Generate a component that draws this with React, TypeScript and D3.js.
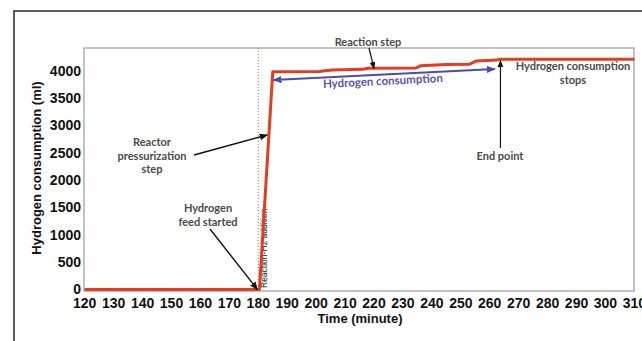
import React from "react";
import * as d3 from "d3";

// Hydrogen uptake recorded during the run (minute, ml)
const minutes = [120, 180.4, 185, 201, 205.5, 216, 218, 234.5, 236, 245, 253, 255.5, 262.5, 263.5, 310];
const consumption = [0, 0, 3985, 3990, 4020, 4030, 4050, 4055, 4095, 4120, 4125, 4185, 4200, 4215, 4215];

const xTicks = [120, 130, 140, 150, 160, 170, 180, 190, 200, 210, 220, 230, 240, 250, 260, 270, 280, 290, 300, 310];
const yTicks = [0, 500, 1000, 1500, 2000, 2500, 3000, 3500, 4000];

const h2AdditionMinute = 180;

const W = 642;
const H = 341;
const plot = { left: 84, top: 48, right: 634, bottom: 291 };

const tickFont = "'Liberation Sans', Arial, sans-serif";
const noteFont = "Lato, 'Open Sans', sans-serif";
const noteColor = "#4a4a4a";

export default function App() {
  const x = d3.scaleLinear().domain([120, 310]).range([84.7, 634.4]);
  const y = d3.scaleLinear().domain([0, 4000]).range([289.5, 71]);

  const pts: [number, number][] = minutes.map((m, i) => [m, consumption[i]]);
  const line = d3
    .line<[number, number]>()
    .x((d) => x(d[0]))
    .y((d) => y(d[1]));

  // annotation arrow tips sit on the data
  const pressTip = [x(183.1), y(2830)];
  const feedTip = [x(179.7), y(0)];
  const endTip = [x(263.7), y(4190)];
  const reactTip = [x(220), y(4045)];
  const blueA = [x(185.2), y(3835)];
  const blueB = [x(261.8), y(4037)];
  const blueAngle = (Math.atan2(blueB[1] - blueA[1], blueB[0] - blueA[0]) * 180) / Math.PI;

  return (
    <svg
      width={W}
      height={H}
      style={{ position: "absolute", left: 0, top: 0, background: "#fff" }}
    >
      <defs>
        <marker id="headBlack" viewBox="0 0 10 10" refX="9" refY="5" markerWidth="6" markerHeight="6" orient="auto-start-reverse">
          <path d="M0,1 L10,5 L0,9 z" fill="#111" />
        </marker>
        <marker id="headBlue" viewBox="0 0 10 10" refX="9" refY="5" markerWidth="5" markerHeight="5" orient="auto-start-reverse">
          <path d="M0,1 L10,5 L0,9 z" fill="#4b4bb0" />
        </marker>
      </defs>

      {/* outer frame */}
      <path d={`M14,${H} L14,11 L${W},11`} fill="none" stroke="#2a2a2a" strokeWidth={1.5} />

      {/* plot frame */}
      <rect
        x={plot.left}
        y={plot.top}
        width={plot.right - plot.left}
        height={plot.bottom - plot.top}
        fill="none"
        stroke="#9a9a9a"
        strokeWidth={1.2}
      />

      {/* H2 addition marker */}
      <line
        x1={x(h2AdditionMinute)}
        x2={x(h2AdditionMinute)}
        y1={plot.top}
        y2={plot.bottom}
        stroke="#c46a5a"
        strokeWidth={1}
        strokeDasharray="1,2"
      />
      <text
        transform={`translate(${x(h2AdditionMinute) + 9},${plot.bottom - 3}) rotate(-90)`}
        fontFamily={tickFont}
        fontSize={8.5}
        fill="#222"
      >
        Reaction-H2 addition
      </text>

      {/* consumption curve */}
      <path d={line(pts) || ""} fill="none" stroke="#e43c1e" strokeWidth={3} strokeLinejoin="round" />

      {/* y ticks */}
      {yTicks.map((t) => (
        <text
          key={t}
          x={81}
          y={y(t)}
          dy="0.34em"
          textAnchor="end"
          fontFamily={tickFont}
          fontWeight="bold"
          fontSize={14}
          fill="#111"
        >
          {t}
        </text>
      ))}
      {/* x ticks */}
      {xTicks.map((t) => (
        <text
          key={t}
          x={x(t)}
          y={308}
          textAnchor="middle"
          fontFamily={tickFont}
          fontWeight="bold"
          fontSize={14}
          fill="#111"
        >
          {t}
        </text>
      ))}

      {/* axis titles */}
      <text x={360} y={323} textAnchor="middle" fontFamily={tickFont} fontWeight="bold" fontSize={13} fill="#111">
        Time (minute)
      </text>
      <text
        transform={`translate(41,168) rotate(-90)`}
        textAnchor="middle"
        fontFamily={tickFont}
        fontWeight="bold"
        fontSize={13}
        fill="#111"
      >
        Hydrogen consumption (ml)
      </text>

      {/* Reaction step */}
      <text x={368} y={46} textAnchor="middle" fontFamily={noteFont} fontWeight="bold" fontSize={11} fill={noteColor}>
        Reaction step
      </text>
      <line x1={369} y1={48} x2={reactTip[0]} y2={reactTip[1]} stroke="#111" strokeWidth={1.2} markerEnd="url(#headBlack)" />

      {/* Hydrogen consumption double arrow */}
      <line
        x1={blueA[0]}
        y1={blueA[1]}
        x2={blueB[0]}
        y2={blueB[1]}
        stroke="#4b4bb0"
        strokeWidth={1.8}
        markerStart="url(#headBlue)"
        markerEnd="url(#headBlue)"
      />
      <text
        transform={`translate(383,85) rotate(${blueAngle})`}
        textAnchor="middle"
        fontFamily={noteFont}
        fontWeight="bold"
        fontSize={11.5}
        fill="#5a55b0"
      >
        Hydrogen consumption
      </text>

      {/* Hydrogen consumption stops */}
      <text textAnchor="middle" fontFamily={noteFont} fontWeight="bold" fontSize={11} fill={noteColor}>
        <tspan x={573} y={70}>Hydrogen consumption</tspan>
        <tspan x={573} y={84}>stops</tspan>
      </text>

      {/* End point */}
      <text x={500} y={160} textAnchor="middle" fontFamily={noteFont} fontWeight="bold" fontSize={11} fill={noteColor}>
        End point
      </text>
      <line x1={endTip[0]} y1={148} x2={endTip[0]} y2={endTip[1]} stroke="#111" strokeWidth={1.2} markerEnd="url(#headBlack)" />

      {/* Reactor pressurization step */}
      <text textAnchor="middle" fontFamily={noteFont} fontWeight="bold" fontSize={11} fill={noteColor}>
        <tspan x={152} y={146}>Reactor</tspan>
        <tspan x={152} y={160}>pressurization</tspan>
        <tspan x={152} y={173}>step</tspan>
      </text>
      <line x1={194} y1={155} x2={pressTip[0]} y2={pressTip[1]} stroke="#111" strokeWidth={1.4} markerEnd="url(#headBlack)" />

      {/* Hydrogen feed started */}
      <text textAnchor="middle" fontFamily={noteFont} fontWeight="bold" fontSize={11} fill={noteColor}>
        <tspan x={208} y={212}>Hydrogen</tspan>
        <tspan x={208} y={226}>feed started</tspan>
      </text>
      <line x1={210} y1={229} x2={feedTip[0]} y2={feedTip[1]} stroke="#111" strokeWidth={1.4} markerEnd="url(#headBlack)" />
    </svg>
  );
}
